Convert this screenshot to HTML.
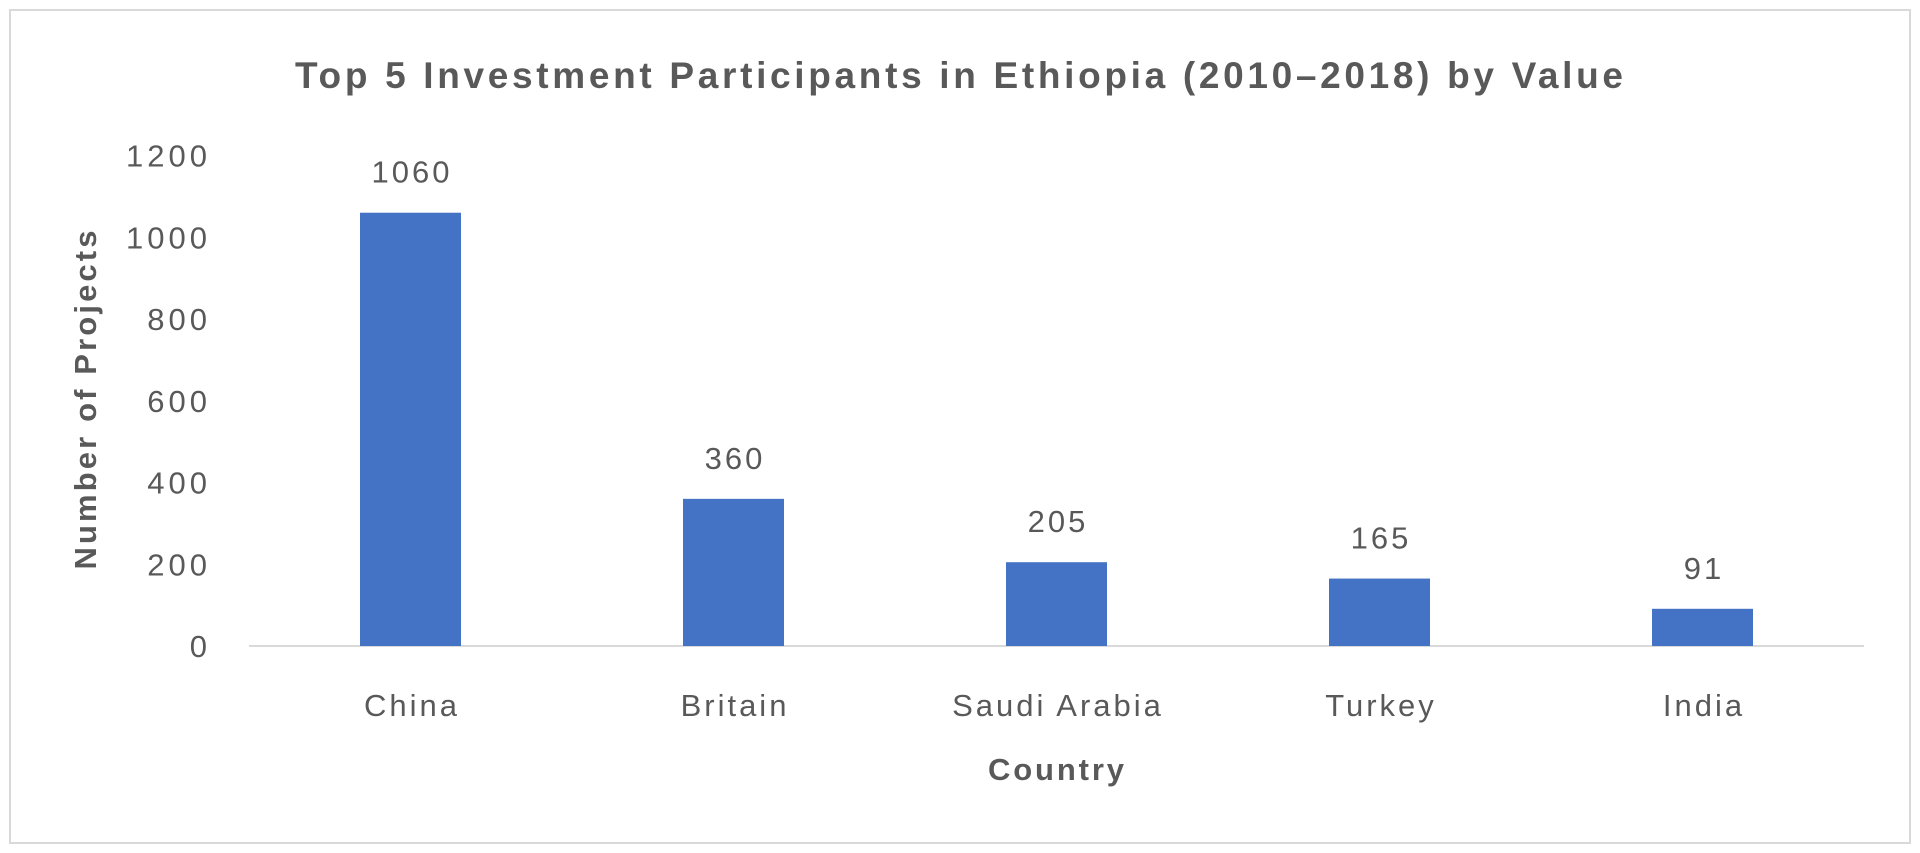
<!DOCTYPE html>
<html><head><meta charset="utf-8">
<style>
html,body{margin:0;padding:0;background:#fff;}
body{width:1920px;height:853px;overflow:hidden;font-family:"Liberation Sans",sans-serif;}
svg{display:block;}
text{font-family:"Liberation Sans",sans-serif;fill:#595959;}
</style></head>
<body>
<svg id="chart" width="1920" height="853">
<rect x="10" y="10" width="1900" height="833" fill="#fff" stroke="#d9d9d9" stroke-width="2"/>
<text x="959" y="88" text-anchor="middle" font-size="37" font-weight="bold" textLength="1328" lengthAdjust="spacing">Top 5 Investment Participants in Ethiopia (2010–2018) by Value</text>
<text transform="translate(96,400) rotate(-90)" text-anchor="middle" font-size="31" font-weight="bold" textLength="339" lengthAdjust="spacing">Number of Projects</text>
<text x="1056" y="780" text-anchor="middle" font-size="31" font-weight="bold" textLength="136" lengthAdjust="spacing">Country</text>
<g id="marks"></g>
</svg>
<script>
const categories = ["China","Britain","Saudi Arabia","Turkey","India"];
const values = [1060,360,205,165,91];
const yTicks = [0,200,400,600,800,1000,1200];

const NS="http://www.w3.org/2000/svg";
const g=document.getElementById('marks');
const x0=249,x1=1864,y0=646,yTop=155.5,yMax=1200;
const yScale=v=>y0-(v/yMax)*(y0-yTop);
const band=(x1-x0)/categories.length;
const xCenter=i=>x0+band*(i+0.5);
const barW=101;
function mk(tag,attrs){const e=document.createElementNS(NS,tag);for(const k in attrs)e.setAttribute(k,attrs[k]);g.appendChild(e);return e;}

yTicks.forEach(t=>{
  const e=mk('text',{x:211,y:yScale(t)+11,'text-anchor':'end','font-size':'31','letter-spacing':'4'});
  e.textContent=t;
  
  
});
const ax=mk('line',{x1:x0,x2:x1,y1:y0,y2:y0,stroke:'#d9d9d9','stroke-width':2});



categories.forEach((c,i)=>{
  const cx=xCenter(i),top=yScale(values[i]);
  const r=mk('rect',{x:cx-barW/2,y:top,width:barW,height:y0-top,fill:'#4472c4'});
  
  
  const v=mk('text',{x:cx+1.5,y:top-30,'text-anchor':'middle','font-size':'31','letter-spacing':'3'});
  v.textContent=values[i];
  
  
  const l=mk('text',{x:cx+1.5,y:716,'text-anchor':'middle','font-size':'31','letter-spacing':'3'});
  l.textContent=c;
  
  
});
</script>
</body></html>
